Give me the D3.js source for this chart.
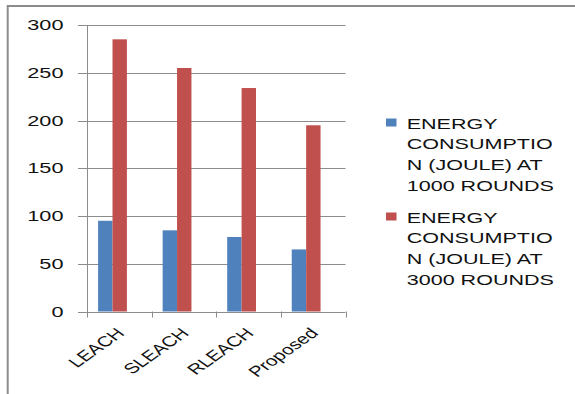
<!DOCTYPE html>
<html><head><meta charset="utf-8">
<script src="https://cdn.jsdelivr.net/npm/d3@7"></script>
<style>body{margin:0;background:#fff}svg{display:block}text{font-family:"Liberation Sans",Arial,sans-serif;fill:#111}</style>
</head><body><svg id="c" width="575" height="394"></svg>
<script>
const categories = ["LEACH", "SLEACH", "RLEACH", "Proposed"];
const seriesKeys = ["r1000", "r3000"];
const values1000 = [95, 85, 78, 65];
const values3000 = [285, 255, 234, 195];
const yTicks = [0, 50, 100, 150, 200, 250, 300];
const legend1000 = ["ENERGY", "CONSUMPTIO", "N (JOULE) AT", "1000 ROUNDS"];
const legend3000 = ["ENERGY", "CONSUMPTIO", "N (JOULE) AT", "3000 ROUNDS"];
const colors = ["#4F81BD", "#C0504D"];

const svg = d3.select("#c");
const grey = "#8c8c8c";

// outer frame (top + left)
svg.append("line").attr("x1", 7).attr("x2", 575).attr("y1", 6).attr("y2", 6).attr("stroke", grey).attr("stroke-width", 2);
svg.append("line").attr("x1", 7.7).attr("x2", 7.7).attr("y1", 5).attr("y2", 394).attr("stroke", grey).attr("stroke-width", 2);

const x = d3.scaleBand().domain(categories).range([87.3, 345.5]).padding(0);
const xs = d3.scaleBand().domain(seriesKeys).range([0, 28.8]).padding(0);
const groupOffset = 10.8;
const y = d3.scaleLinear().domain([0, 300]).range([311.5, 25]);

// gridlines
svg.append("g").selectAll("line").data(yTicks).join("line")
  .attr("x1", 78).attr("x2", 345.5)
  .attr("y1", d => Math.round(y(d)) + 0.5).attr("y2", d => Math.round(y(d)) + 0.5)
  .attr("stroke", grey).attr("stroke-width", 1);

// y axis line
svg.append("line").attr("x1", 87.5).attr("x2", 87.5).attr("y1", y(300)).attr("y2", y(0) + 0.5)
  .attr("stroke", grey).attr("stroke-width", 1);

// y labels
svg.append("g").selectAll("text").data(yTicks).join("text")
  .attr("transform", d => `translate(63.5,${y(d) + 5}) scale(1.55,1)`)
  .attr("text-anchor", "end").attr("font-size", 14).text(d => d);

// bars
const rows = categories.map((c, i) => ({ c, vals: [values1000[i], values3000[i]] }));
const g = svg.append("g").selectAll("g").data(rows).join("g")
  .attr("transform", d => `translate(${x(d.c) + groupOffset},0)`);
g.selectAll("rect").data(d => d.vals.map((v, j) => ({ k: seriesKeys[j], v, j }))).join("rect")
  .attr("x", d => xs(d.k)).attr("width", xs.bandwidth())
  .attr("y", d => y(d.v)).attr("height", d => y(0) - y(d.v))
  .attr("fill", d => colors[d.j]);

// x axis ticks at band boundaries
const bounds = categories.map(c => x(c)).concat([x.range()[1]]);
svg.append("g").selectAll("line").data(bounds).join("line")
  .attr("x1", d => Math.round(d) + 0.5).attr("x2", d => Math.round(d) + 0.5)
  .attr("y1", y(0)).attr("y2", y(0) + 6).attr("stroke", grey);

// x labels
svg.append("g").selectAll("text").data(categories).join("text")
  .attr("transform", c => `translate(${x(c) + x.bandwidth() / 2 + 6},334) scale(1.42,1) rotate(-45)`)
  .attr("text-anchor", "end").attr("font-size", 14.5).text(c => c);

// legend
const legends = [legend1000, legend3000];
const lg = svg.append("g").selectAll("g").data(legends).join("g")
  .attr("transform", (d, i) => `translate(0,${128.5 + i * 94})`);
lg.append("rect").attr("x", 386).attr("y", -10).attr("width", 10.5).attr("height", 8)
  .attr("fill", (d, i) => colors[i]);
lg.selectAll("text").data(d => d).join("text")
  .attr("transform", (d, i) => `translate(406.7,${i * 20.8}) scale(1.4,1)`)
  .attr("font-size", 15.4).text(d => d);
</script></body></html>
